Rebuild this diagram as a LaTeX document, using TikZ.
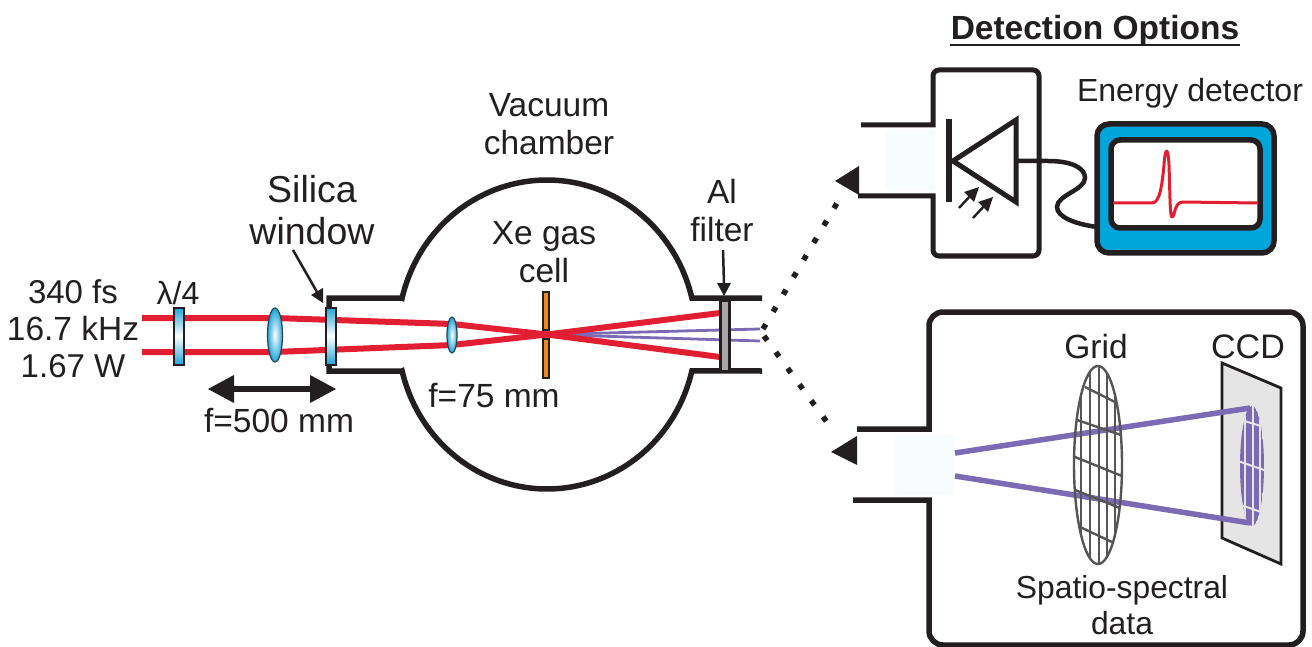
\documentclass[tikz,border=0pt]{standalone}
\usepackage{fontspec}
\setmainfont{Liberation Sans}
\definecolor{ink}{HTML}{231F20}
\definecolor{beamred}{HTML}{E21F32}
\definecolor{beampurple}{HTML}{7A6BB4}
\definecolor{optic}{HTML}{1FA5D8}
\definecolor{screenblue}{HTML}{00A5DA}
\definecolor{cellorange}{HTML}{EE8A1E}
\definecolor{gridgray}{HTML}{555555}
\definecolor{ccdgray}{HTML}{E5E5E5}
\definecolor{glow}{HTML}{F9FCFE}
\newcommand{\fs}[2]{\fontsize{#1}{#2}\selectfont}
\tikzset{
  lbl/.style={text=ink,inner sep=0pt,anchor=base,align=center,font=\fs{33.5}{38}},
  wall/.style={draw=ink,line width=5.5pt},
  redbeam/.style={draw=beamred,line width=6pt},
  thinpurple/.style={draw=beampurple,line width=2.8pt},
  widepurple/.style={draw=beampurple,line width=5.5pt},
  lensshape/.style={draw=ink!70!optic,line width=1.2pt,inner color=white,outer color=optic},
  plateshape/.style={draw=ink,line width=2pt,top color=optic,bottom color=optic,middle color=white},
  dotline/.style={draw=ink,line width=5.5pt,dash pattern=on 5.5pt off 14.5pt},
  headfill/.style={fill=ink,draw=none},
  thinarrow/.style={draw=ink,line width=2.5pt},
  gridline/.style={draw=gridgray,line width=2.4pt},
  ccdline/.style={draw=ccdgray,line width=2pt}
}
\begin{document}
\begin{tikzpicture}[x=1pt,y=-1pt]
\useasboundingbox (0,0) rectangle (1312,647);
\fill[white] (0,0) rectangle (1312,647);
% faint glows
\fill[glow] (885,130) rectangle (935,190);
\fill[glow] (895,435) rectangle (955,495);
% vacuum chamber
\draw[wall,line cap=butt,line join=miter] (329,307) -- (329,298) -- (402,298)
  -- plot[domain=-166.5:-13.5,samples=80] ({547+149*cos(\x)},{334+154*sin(\x)}) -- (762,298);
\draw[wall,line join=miter] (329,363) -- (329,371) -- (402,371)
  -- plot[domain=166.5:13.5,samples=80] ({547+149*cos(\x)},{335+154*sin(\x)}) -- (762,371);
% purple beams
\coordinate (focus) at (547,334.5);
\draw[thinpurple] (focus) -- (760,329);
\draw[thinpurple] (focus) -- (760,341);
% red beams
\coordinate (u0) at (142,318);
\coordinate (u1) at (275,318);
\coordinate (l0) at (142,352);
\coordinate (l1) at (275,352);
\coordinate (u2) at (452,324);
\coordinate (l2) at (452,345);
\draw[redbeam] (u0) -- (u1) -- (u2) -- (focus) -- (720,357);
\draw[redbeam] (l0) -- (l1) -- (l2) -- (focus) -- (720,313);
% optics
\node[plateshape,minimum width=10pt,minimum height=57pt,inner sep=0pt] (qwp) at (178.5,336) {};
\path[lensshape] (275,335) ellipse [x radius=7.5,y radius=27];
\node[plateshape,minimum width=10pt,minimum height=57pt,inner sep=0pt] (win) at (331,336) {};
\path[lensshape] (452,335) ellipse [x radius=5,y radius=18];
% gas cell
\draw[ink,line width=2pt,fill=cellorange] (543,292) rectangle (549,330);
\draw[ink,line width=2pt,fill=cellorange] (543,339) rectangle (549,378);
% Al filter
\node[draw=ink,line width=2.8pt,fill=gray!70,minimum width=9pt,minimum height=70pt,inner sep=0pt] (alf) at (725,336) {};
% labels, left part
\node[lbl,font=\fs{33}{38}] (pulse1) at (73,303) {340 fs};
\node[lbl,font=\fs{33.5}{38}] (pulse2) at (73,340) {16.7 kHz};
\node[lbl,font=\fs{33}{38}] (pulse3) at (73,377) {1.67 W};
\node[lbl,font=\fs{32}{38}] (lam) at (178,304) {λ/4};
\node[lbl,font=\fs{37.5}{42}] (silica) at (312,244) {Silica\\window};
\node[lbl] (f500) at (279,432) {f=500 mm};
\node[lbl] (vac) at (549,155) {Vacuum\\chamber};
\node[lbl] (xe) at (544,282) {Xe gas\\cell};
\node[lbl] (f75) at (494,407) {f=75 mm};
\node[lbl] (al) at (722,242) {Al\\filter};
% pointers
\coordinate (silicaTail) at (293,250);
\coordinate (silicaHead) at (323,303);
\draw[thinarrow] (silicaTail) -- (317,292);
\fill[headfill] (silicaHead) -- (311,295) -- (323,288) -- cycle;
\coordinate (alTail) at (723,250);
\coordinate (alHead) at (724,296);
\draw[thinarrow] (alTail) -- (724,284);
\fill[headfill] (alHead) -- (717,283) -- (731,283) -- cycle;
% focus travel arrow
\coordinate (travelL) at (208,389);
\coordinate (travelR) at (336,389);
\draw[ink,line width=5.5pt] (232,389) -- (312,389);
\fill[headfill] (travelL) -- (234,375) -- (234,403) -- cycle;
\fill[headfill] (travelR) -- (310,375) -- (310,403) -- cycle;
% dotted paths
\coordinate (dotA) at (763,329);
\coordinate (dotB) at (843,193);
\coordinate (dotC) at (764,336);
\coordinate (dotD) at (832,429);
\draw[dotline] (dotA) -- (dotB);
\draw[dotline] (dotC) -- (dotD);
\fill[headfill] (835,181) -- (859,166) -- (859,195) -- cycle;
\fill[headfill] (831,452) -- (857,436) -- (857,465) -- cycle;
% heading
\node[text=ink,inner sep=0pt,anchor=base,font=\fs{33.5}{38}\bfseries] (head) at (1095,40) {Detection Options};
\draw[ink,line width=2.8pt] (950,45) -- (1240,45);
% energy detector box
\draw[draw=ink,line width=5pt,rounded corners=6pt] (861,125) [sharp corners] -- (933,125) [rounded corners=6pt] -- (933,70) -- (1039,70) -- (1039,256) -- (933,256) [sharp corners] -- (933,196) -- (858,196);
% diode
\draw[ink,line width=5.5pt] (949,119) -- (949,202);
\draw[ink,line width=5pt,line join=miter] (953,161) -- (1016,120) -- (1016,202) -- cycle;
% small arrows
\draw[ink,line width=2.4pt] (959,208) -- (972,194);
\fill[headfill] (979,187) -- (964,192) -- (974,202) -- cycle;
\draw[ink,line width=2.4pt] (973,218) -- (986,204);
\fill[headfill] (993,197) -- (978,202) -- (988,212) -- cycle;
% monitor
\node[draw=ink,line width=5.5pt,fill=screenblue,rounded corners=12pt,minimum width=177pt,minimum height=129pt,inner sep=0pt] (mon) at (1185.5,188.5) {};
\node[draw=ink,line width=5.5pt,fill=white,rounded corners=9pt,minimum width=149pt,minimum height=88pt,inner sep=0pt] (scr) at (1185.5,184) {};
% wire
\draw[ink,line width=4.5pt] (1016,161) -- (1048,161) .. controls (1072,161) and (1085,168) .. (1085,178) .. controls (1085,190) and (1057,195) .. (1057,207) .. controls (1057,217) and (1075,224) .. (1097,227);
% signal
\draw[beamred,line width=3pt,line cap=round,line join=round] (1114,203) -- (1152,203) .. controls (1160,203) and (1162,185) .. (1164,165) .. controls (1165,148) and (1168,145) .. (1169,165) .. controls (1170,195) and (1170,217) .. (1172,217) .. controls (1175,217) and (1174,203) .. (1182,202) -- (1257,203);
\node[lbl,font=\fs{32}{38}] (energy) at (1190,102) {Energy detector};
% spectrometer box
\draw[draw=ink,line width=5.5pt,rounded corners=14pt] (857,429) [sharp corners] -- (929,429) [rounded corners=14pt] -- (929,312) -- (1303,312) -- (1303,645) -- (929,645) [sharp corners] -- (929,500) -- (853,500);
% CCD
\draw[draw=ink,line width=2.8pt,fill=ccdgray,line join=miter] (1222,363) -- (1281,388) -- (1281,564) -- (1222,538) -- cycle;
% CCD spot
\begin{scope}
\clip (1252,466) ellipse [x radius=12,y radius=60];
\fill[beampurple] (1252,466) ellipse [x radius=12,y radius=60];
\foreach \vx in {1245,1252.5,1260} \draw[ccdline] (\vx,400) -- (\vx,530);
\draw[ccdline] (1238,419) -- (1264,427);
\draw[ccdline] (1238,461) -- (1264,470);
\draw[ccdline] (1238,504) -- (1264,513);
\end{scope}
% XUV beams
\coordinate (xa) at (955,453);
\coordinate (xb) at (1250,408);
\coordinate (xc) at (955,476);
\coordinate (xd) at (1250,523);
\draw[widepurple] (xa) -- (xb);
\draw[widepurple] (xc) -- (xd);
% grid
\begin{scope}
\clip (1098,465) ellipse [x radius=24,y radius=99];
\foreach \vx in {1081,1090,1099,1107,1115} \draw[gridline] (\vx,360) -- (\vx,570);
\draw[gridline] (1085,387) -- (1115,402);
\draw[gridline] (1077,420) -- (1121,435);
\draw[gridline] (1075,457) -- (1122,476);
\draw[gridline] (1075,490) -- (1120,508);
\draw[gridline] (1080,527) -- (1112,542);
\end{scope}
\draw[gridline] (1098,465) ellipse [x radius=24,y radius=99];
\node[lbl] (grid) at (1096,358) {Grid};
\node[lbl,font=\fs{34}{38}] (ccd) at (1248,358) {CCD};
\node[lbl,font=\fs{31.8}{36}] (spatio) at (1122,634) {Spatio-spectral\\data};
\end{tikzpicture}
\end{document}
